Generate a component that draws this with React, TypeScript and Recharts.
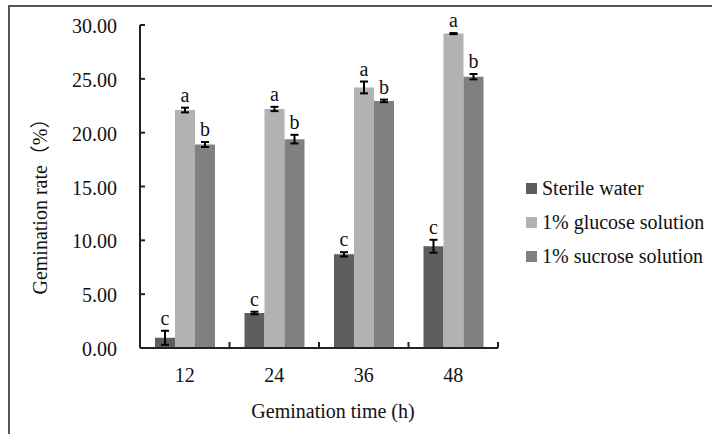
import React from 'react';
import { BarChart, Bar, XAxis, YAxis, Legend, ErrorBar, LabelList } from 'recharts';

const times = ['12', '24', '36', '48'];
const seriesNames = ['Sterile water', '1% glucose solution', '1% sucrose solution'];
const sterileWater = [0.95, 3.25, 8.7, 9.45];
const sterileWaterErr = [0.65, 0.12, 0.2, 0.6];
const glucose = [22.1, 22.2, 24.2, 29.2];
const glucoseErr = [0.22, 0.2, 0.55, 0.05];
const sucrose = [18.9, 19.4, 22.95, 25.2];
const sucroseErr = [0.23, 0.4, 0.12, 0.25];
const waterLetters = ['c', 'c', 'c', 'c'];
const glucoseLetters = ['a', 'a', 'a', 'a'];
const sucroseLetters = ['b', 'b', 'b', 'b'];
const yTicks = [0, 5, 10, 15, 20, 25, 30];

const FONT = "'Liberation Serif', 'Times New Roman', serif";

const data = times.map((t, i) => ({
  time: t,
  water: sterileWater[i],
  waterErr: sterileWaterErr[i],
  glucose: glucose[i],
  glucoseErr: glucoseErr[i],
  sucrose: sucrose[i],
  sucroseErr: sucroseErr[i],
}));

const YTick = (props: any) => {
  const { x, y, payload } = props;
  return (
    <g>
      <line x1={x} y1={y} x2={x + 5} y2={y} stroke="#222" strokeWidth={2} />
      <text x={x - 23} y={y + 8} textAnchor="end" fontSize={20} fontFamily={FONT} fill="#111">
        {Number(payload.value).toFixed(2)}
      </text>
    </g>
  );
};

const XTick = (props: any) => {
  const { x, y, payload, width, visibleTicksCount } = props;
  const half = payload.offset ?? width / visibleTicksCount / 2;
  return (
    <g>
      <line x1={x + half} y1={y} x2={x + half} y2={y - 6} stroke="#222" strokeWidth={2} />
      <text x={x} y={y + 34} textAnchor="middle" fontSize={20} fontFamily={FONT} fill="#111">
        {payload.value}
      </text>
    </g>
  );
};

const makeLetter = (letters: string[], values: number[], errs: number[]) => (props: any) => {
  const vb = props.viewBox || props;
  const { x, y, width, height } = vb;
  const i = props.index;
  const pxPer = values[i] ? height / values[i] : 0;
  const top = y - errs[i] * pxPer;
  return (
    <text x={x + width / 2} y={top - 6} textAnchor="middle" fontSize={20} fontFamily={FONT} fill="#111">
      {letters[i]}
    </text>
  );
};

const LegendContent = (props: any) => {
  const items = [...props.payload].sort(
    (a: any, b: any) => seriesNames.indexOf(a.value) - seriesNames.indexOf(b.value)
  );
  return (
    <div style={{ fontFamily: FONT, fontSize: 20, color: '#111' }}>
      {items.map((p: any) => (
        <div key={p.value} style={{ display: 'flex', alignItems: 'center', height: 34 }}>
          <span style={{ width: 11, height: 11, background: p.color, marginRight: 5, display: 'inline-block' }} />
          <span>{p.value}</span>
        </div>
      ))}
    </div>
  );
};

export default function App() {
  return (
    <div style={{ position: 'absolute', left: 0, top: 0, width: 712, height: 434, background: '#fff', overflow: 'hidden' }}>
      <div
        style={{
          position: 'absolute',
          left: 8,
          top: 5,
          width: 760,
          height: 480,
          borderTop: '2px solid #555',
          borderLeft: '2px solid #555',
        }}
      />
      <div style={{ position: 'absolute', left: 0, top: 0 }}>
        <BarChart
          width={712}
          height={434}
          data={data}
          margin={{ top: 25, right: 214, bottom: 0, left: 0 }}
          barSize={20}
          barGap={0}
        >
          <XAxis
            dataKey="time"
            height={86}
            axisLine={{ stroke: '#222', strokeWidth: 2 }}
            tickLine={false}
            tickSize={0}
            tickMargin={0}
            tick={<XTick />}
            label={{
              content: (p: any) => (
                <text
                  x={p.viewBox.x + p.viewBox.width / 2 + 14}
                  y={p.viewBox.y + 70}
                  textAnchor="middle"
                  fontSize={20}
                  fontFamily={FONT}
                  fill="#111"
                >
                  Gemination time (h)
                </text>
              ),
            }}
          />
          <YAxis
            width={140}
            domain={[0, 30]}
            ticks={yTicks}
            axisLine={{ stroke: '#222', strokeWidth: 2 }}
            tickLine={false}
            tickSize={0}
            tickMargin={0}
            tick={<YTick />}
            label={{
              content: (p: any) => (
                <text
                  x={40}
                  y={p.viewBox.y + p.viewBox.height / 2 + 15}
                  textAnchor="middle"
                  dominantBaseline="central"
                  transform={`rotate(-90, 40, ${p.viewBox.y + p.viewBox.height / 2 + 15})`}
                  fontSize={20}
                  fontFamily={`${FONT}, 'Noto Sans CJK SC'`}
                  fill="#111"
                >
                  Gemination rate（%）
                </text>
              ),
            }}
          />
          <Legend
            layout="vertical"
            align="center"
            verticalAlign="middle"
            wrapperStyle={{ left: 526, top: 171, width: 190 }}
            content={<LegendContent />}
          />
          <Bar dataKey="water" name={seriesNames[0]} fill="#5e5e5e" isAnimationActive={false}>
            <ErrorBar dataKey="waterErr" width={4} stroke="#000" strokeWidth={2} direction="y" />
            <LabelList dataKey="water" content={makeLetter(waterLetters, sterileWater, sterileWaterErr)} />
          </Bar>
          <Bar dataKey="glucose" name={seriesNames[1]} fill="#b2b2b2" isAnimationActive={false}>
            <ErrorBar dataKey="glucoseErr" width={4} stroke="#000" strokeWidth={2} direction="y" />
            <LabelList dataKey="glucose" content={makeLetter(glucoseLetters, glucose, glucoseErr)} />
          </Bar>
          <Bar dataKey="sucrose" name={seriesNames[2]} fill="#808080" isAnimationActive={false}>
            <ErrorBar dataKey="sucroseErr" width={4} stroke="#000" strokeWidth={2} direction="y" />
            <LabelList dataKey="sucrose" content={makeLetter(sucroseLetters, sucrose, sucroseErr)} />
          </Bar>
        </BarChart>
      </div>
    </div>
  );
}
